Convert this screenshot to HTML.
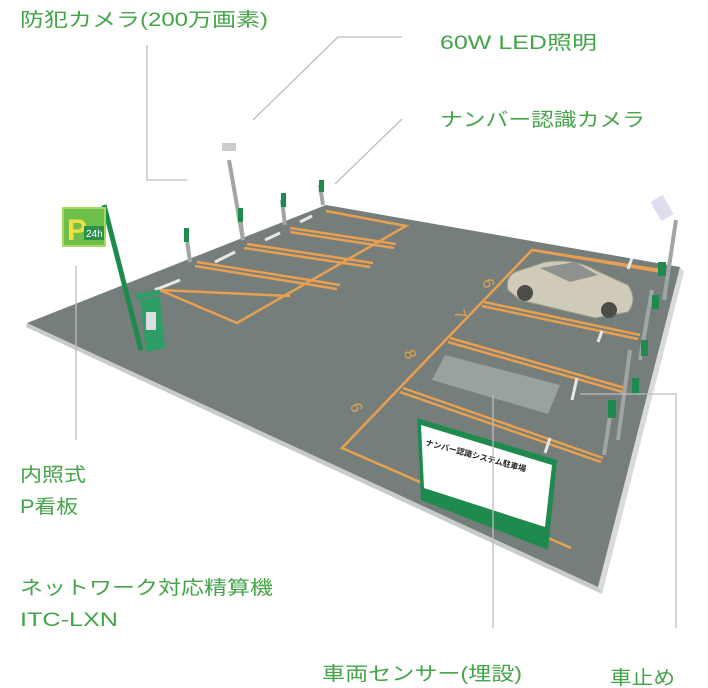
<!DOCTYPE html>
<html><head><meta charset="utf-8"><style>
html,body{margin:0;padding:0;background:#fff;width:708px;height:688px;overflow:hidden}
svg{display:block}
.t{font-family:"Liberation Sans","Noto Sans CJK JP",sans-serif;fill:#43a448;font-size:19px}
</style></head><body>
<svg width="708" height="688" viewBox="0 0 708 688">
<polygon points="680,267 684,272 602,594 598,587" fill="#d8dbd8"/>
<polygon points="27,323 598,587 602,594 26,327" fill="#c8ccc8"/>
<polygon points="27,323 326,205 680,267 598,587" fill="#767e7b"/>
<g stroke="#e8a050" stroke-width="2.5" fill="none">
<polyline points="326,211 406,226 237,323 155,288"/>
<line x1="290" y1="228" x2="396" y2="244"/><line x1="290" y1="232" x2="394" y2="248"/>
<line x1="247" y1="244" x2="373" y2="263"/><line x1="244" y1="248" x2="370" y2="267"/>
<line x1="197" y1="262" x2="340" y2="285"/><line x1="195" y1="266" x2="337" y2="289"/>
<line x1="160" y1="290" x2="290" y2="296"/>
<polyline points="660,270 532,250 342,448 571,548"/>
<line x1="484" y1="302" x2="640" y2="335"/><line x1="482" y1="306" x2="638" y2="339"/>
<line x1="450" y1="338" x2="625" y2="388"/><line x1="448" y1="342" x2="623" y2="392"/>
<line x1="403" y1="388" x2="603" y2="458"/><line x1="400" y1="392" x2="601" y2="462"/>
<line x1="532" y1="250" x2="662" y2="272"/>
</g>
<g fill="#e8a050" font-family="Liberation Sans,sans-serif" font-size="16">
<text x="350" y="415" transform="rotate(70 357 410)">6</text>
<text x="405" y="360" transform="rotate(70 410 355)">8</text>
<text x="455" y="320" transform="rotate(70 460 315)">7</text>
<text x="484" y="288" transform="rotate(70 488 283)">6</text>
</g>
<polygon points="445,355 560,385 548,414 432,380" fill="#9aa29e"/>
<g stroke="#e8e8e8" stroke-width="3">
<line x1="300" y1="222" x2="312" y2="216"/><line x1="265" y1="240" x2="280" y2="233"/>
<line x1="215" y1="262" x2="235" y2="252"/><line x1="155" y1="290" x2="180" y2="280"/>
<line x1="628" y1="269" x2="632" y2="258"/><line x1="598" y1="342" x2="602" y2="331"/>
<line x1="572" y1="400" x2="577" y2="378"/><line x1="545" y1="453" x2="550" y2="438"/>
</g>
<path d="M508,290 Q505,278 515,272 L545,262 Q575,258 595,270 L628,285 Q638,300 628,312 L595,318 L520,300 Z" fill="#cfcbb8" stroke="#9a9888" stroke-width="1"/>
<path d="M540,268 L575,262 L598,275 L570,282 Z" fill="#8f938f"/>
<circle cx="525" cy="293" r="8" fill="#4c4c48"/><circle cx="609" cy="310" r="8" fill="#4c4c48"/>
<g stroke="#a0a6a4" stroke-width="4">
<line x1="187" y1="240" x2="190" y2="262"/><line x1="240" y1="215" x2="243" y2="240"/>
<line x1="282" y1="200" x2="285" y2="225"/><line x1="320" y1="185" x2="323" y2="205"/>
<line x1="229" y1="160" x2="243" y2="240"/>
<line x1="676" y1="220" x2="664" y2="300"/>
<line x1="652" y1="290" x2="640" y2="360"/><line x1="630" y1="350" x2="618" y2="440"/><line x1="611" y1="410" x2="604" y2="455"/>
</g>
<g fill="#1f8a4e">
<rect x="184" y="228" width="5" height="14"/><rect x="238" y="208" width="5" height="14"/><rect x="281" y="193" width="5" height="14"/><rect x="319" y="180" width="5" height="12"/>
<rect x="658" y="262" width="8" height="14"/><rect x="652" y="295" width="7" height="14"/><rect x="641" y="340" width="7" height="16"/><rect x="632" y="378" width="7" height="16"/><rect x="608" y="400" width="8" height="18"/>
</g>
<rect x="655" y="197" width="14" height="22" fill="#dde" transform="rotate(-30 662 208)"/>
<rect x="222" y="143" width="14" height="8" fill="#ccc"/>
<line x1="104" y1="205" x2="141" y2="350" stroke="#1f8a4e" stroke-width="5"/>
<rect x="63" y="208" width="42" height="38" fill="#6cc04a" stroke="#a8d860" stroke-width="2"/>
<text x="67" y="240" font-family="Liberation Sans,sans-serif" font-weight="bold" font-size="30" fill="#f2e040">P</text>
<rect x="84" y="226" width="20" height="14" fill="#2e8f4a"/>
<text x="86" y="237" font-family="Liberation Sans,sans-serif" font-size="10" fill="#fff">24h</text>
<polygon points="140,300 160,296 165,348 146,352" fill="#2e9d68"/>
<rect x="146" y="312" width="10" height="18" fill="#ddd"/>
<line x1="135" y1="297" x2="160" y2="292" stroke="#2e9d68" stroke-width="5"/>
<polygon points="417,418 557,460 548,550 421,500" fill="#1f8a4e"/>
<polygon points="421,425 552,465 545,527 424,488" fill="#fff"/>
<text x="425" y="445" font-family="Liberation Sans,Noto Sans CJK JP,sans-serif" font-size="8" font-weight="bold" fill="#222" transform="rotate(15 425 445)">ナンバー認識システム駐車場</text>
<g stroke="#bdbdbd" stroke-width="1.3" fill="none">
<polyline points="147,45 147,180 187,180"/>
<polyline points="253,120 338,37 402,37"/>
<line x1="335" y1="184" x2="402" y2="119"/>
<line x1="76" y1="266" x2="76" y2="440"/>
<line x1="493" y1="395" x2="493" y2="628"/>
<polyline points="580,394 676,394 676,628"/>
</g>
<text class="t" x="20" y="26" textLength="248" lengthAdjust="spacingAndGlyphs">防犯カメラ(200万画素)</text>
<text class="t" x="440" y="49" textLength="157" lengthAdjust="spacingAndGlyphs">60W LED照明</text>
<text class="t" x="440" y="126" textLength="205" lengthAdjust="spacingAndGlyphs">ナンバー認識カメラ</text>
<text class="t" x="20" y="481" textLength="66" lengthAdjust="spacingAndGlyphs">内照式</text>
<text class="t" x="20" y="513" textLength="58" lengthAdjust="spacingAndGlyphs">P看板</text>
<text class="t" x="20" y="594" textLength="253" lengthAdjust="spacingAndGlyphs">ネットワーク対応精算機</text>
<text class="t" x="20" y="626" textLength="98" lengthAdjust="spacingAndGlyphs">ITC-LXN</text>
<text class="t" x="322" y="680" textLength="200" lengthAdjust="spacingAndGlyphs">車両センサー(埋設)</text>
<text class="t" x="610" y="684" textLength="65" lengthAdjust="spacingAndGlyphs">車止め</text>
</svg>
</body></html>
